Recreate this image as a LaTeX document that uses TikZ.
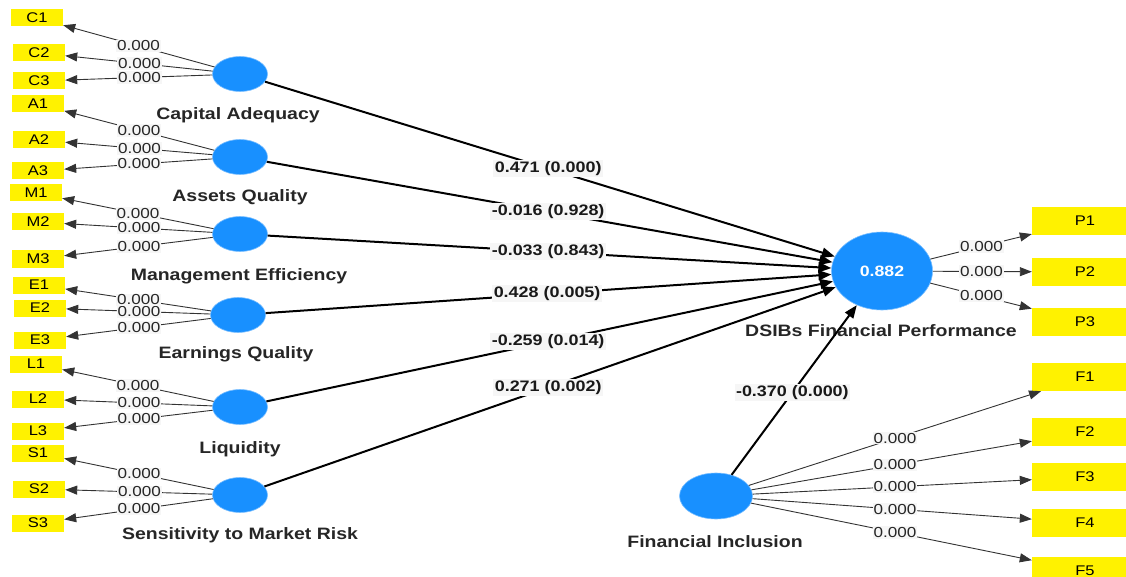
\documentclass[tikz,border=0pt]{standalone}
\usepackage{fontspec}
\setmainfont{Liberation Sans}[FakeStretch=1.18]
\usetikzlibrary{shapes.geometric,arrows.meta,calc}
\definecolor{lvblue}{RGB}{24,144,255}
\definecolor{lvedge}{RGB}{120,190,255}
\definecolor{labelbg}{RGB}{246,246,246}
\begin{document}
\begin{tikzpicture}[x=1pt,y=-1pt,
  indl/.style={fill=yellow, minimum width=52pt, minimum height=17pt, inner sep=0pt,
    font=\fontsize{14}{14}\selectfont},
  indr/.style={fill=yellow, minimum width=106pt, minimum height=28pt, inner sep=0pt,
    font=\fontsize{14}{14}\selectfont},
  lv/.style={ellipse, fill=lvblue, draw=lvedge, line width=0.6pt, inner sep=0pt,
    minimum width=55pt, minimum height=35pt},
  lvname/.style={font=\bfseries\fontsize{16.5}{16.5}\selectfont, text=black!85},
  load/.style={draw=black!80, line width=0.9pt, -{Triangle[length=12pt,width=9pt]}},
  struct/.style={draw=black, line width=2pt, -{Triangle[length=13pt,width=10pt]}},
  lbl/.style={fill=labelbg, inner sep=1pt, text=black!85,
    font=\fontsize{14.5}{14.5}\selectfont},
  coef/.style={fill=labelbg, inner sep=1.5pt, text=black!90,
    font=\bfseries\fontsize{15.2}{15.2}\selectfont}]
\clip (0,0) rectangle (1126,577);
\fill[white] (0,0) rectangle (1126,577);

% latent variables
\node[lv] (ca) at (240,74) {};
\node[lv] (aq) at (240,157) {};
\node[lv] (me) at (240,234) {};
\node[lv] (eq) at (238,315) {};
\node[lv] (lq) at (240,407) {};
\node[lv] (sm) at (240,495) {};
\node[lv, minimum width=101pt, minimum height=78pt, text=white,
  font=\bfseries\fontsize{15}{15}\selectfont] (dp) at (882,271) {0.882};
\node[lv, minimum width=73pt, minimum height=46pt] (fi) at (716,496) {};

% latent variable names
\node[lvname] (tca) at (238,115) {Capital Adequacy};
\node[lvname] (taq) at (240,197) {Assets Quality};
\node[lvname] (tme) at (239,276) {Management Efficiency};
\node[lvname] (teq) at (236,354) {Earnings Quality};
\node[lvname] (tlq) at (240,449) {Liquidity};
\node[lvname] (tsm) at (240,535) {Sensitivity to Market Risk};
\node[lvname] (tdp) at (881,331) {DSIBs Financial Performance};
\node[lvname] (tfi) at (715,542) {Financial Inclusion};

% indicators, left column
\node[indl] (c1) at (37,18) {C1};
\node[indl] (c2) at (39,53) {C2};
\node[indl] (c3) at (39,81) {C3};
\node[indl] (a1) at (38,104) {A1};
\node[indl] (a2) at (39,140) {A2};
\node[indl] (a3) at (38,171) {A3};
\node[indl] (m1) at (36,193) {M1};
\node[indl] (m2) at (38,222) {M2};
\node[indl] (m3) at (38,259) {M3};
\node[indl] (e1) at (39,285) {E1};
\node[indl] (e2) at (40,308) {E2};
\node[indl] (e3) at (40,340) {E3};
\node[indl] (l1) at (36,364) {L1};
\node[indl] (l2) at (38,399) {L2};
\node[indl] (l3) at (38,431) {L3};
\node[indl] (s1) at (38,453) {S1};
\node[indl] (s2) at (39,489) {S2};
\node[indl] (s3) at (38,523) {S3};

% indicators, right column
\node[indr] (p1) at (1085,221) {P1};
\node[indr] (p2) at (1085,272) {P2};
\node[indr] (p3) at (1085,322) {P3};
\node[indr] (f1) at (1085,377) {F1};
\node[indr] (f2) at (1085,432) {F2};
\node[indr] (f3) at (1085,477) {F3};
\node[indr] (f4) at (1085,523) {F4};
\node[indr] (f5) at (1085,571) {F5};

% outer loadings
\foreach \lvn/\ind in {ca/c1,ca/c2,ca/c3,aq/a1,aq/a2,aq/a3,me/m1,me/m2,me/m3,
    eq/e1,eq/e2,eq/e3,lq/l1,lq/l2,lq/l3,sm/s1,sm/s2,sm/s3,
    dp/p1,dp/p2,dp/p3,fi/f1,fi/f2,fi/f3,fi/f4,fi/f5}
  \draw[load] (\lvn) -- (\ind);

% structural paths
\foreach \lvn in {ca,aq,me,eq,lq,sm}
  \draw[struct] (\lvn) -- (dp);
\draw[struct] (fi) -- (dp);

% loading labels
\foreach \lvn/\ind in {ca/c1,ca/c2,ca/c3,aq/a1,aq/a2,aq/a3,me/m1,me/m2,me/m3,
    eq/e2,eq/e1,eq/e3,lq/l1,lq/l2,lq/l3,sm/s1,sm/s2,sm/s3}
  \node[lbl] at ($(\lvn)!0.5!(\ind)$) {0.000};
\foreach \ind in {p1,p2,p3}
  \node[lbl] at ($(dp)!0.49!(\ind)$) {0.000};
\foreach \ind in {f1,f2,f3,f4,f5}
  \node[lbl] at ($(fi)!0.485!(\ind)$) {0.000};

% path coefficients (p-values)
\node[coef] at ($(ca)!0.48!(dp)$) {0.471 (0.000)};
\node[coef] at ($(aq)!0.48!(dp)$) {-0.016 (0.928)};
\node[coef] at ($(me)!0.48!(dp)$) {-0.033 (0.843)};
\node[coef] at ($(eq)!0.48!(dp)$) {0.428 (0.005)};
\node[coef] at ($(lq)!0.48!(dp)$) {-0.259 (0.014)};
\node[coef] at ($(sm)!0.48!(dp)$) {0.271 (0.002)};
\node[coef] at ($(fi)!0.46!(dp)$) {-0.370 (0.000)};
\end{tikzpicture}
\end{document}
